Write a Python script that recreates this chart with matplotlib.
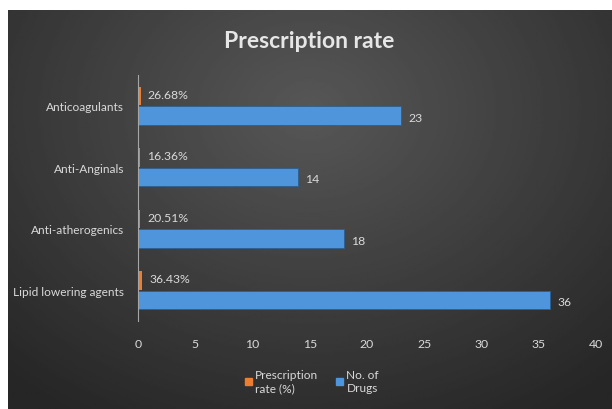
import numpy as np
import matplotlib.pyplot as plt
from matplotlib.patches import Patch

categories = ['Lipid lowering agents', 'Anti-atherogenics', 'Anti-Anginals', 'Anticoagulants']
rate_pct = [36.43, 20.51, 16.36, 26.68]
n_drugs = [36, 18, 14, 23]
x_ticks = [0, 5, 10, 15, 20, 25, 30, 35, 40]

plt.rcParams['font.family'] = ['Lato', 'DejaVu Sans']
txt = '#D9D9D9'
orange = '#ED7D31'
blue = '#4F95DB'

fig = plt.figure(figsize=(6.12, 4.10), dpi=100, facecolor='white')

# dark radial background
bg = fig.add_axes([8 / 612, 0, 604 / 612, 399 / 410])
yy, xx = np.mgrid[0:1:200j, 0:1:300j]
r = np.sqrt(((xx - 0.5) / 0.75) ** 2 + ((yy - 0.25) / 0.9) ** 2)
shade = 0.34 - 0.19 * np.clip(r, 0, 1)
bg.imshow(shade, cmap='gray', vmin=0, vmax=1, aspect='auto', extent=[0, 1, 0, 1])
bg.axis('off')

ax = fig.add_axes([138 / 612, 1 - 322 / 410, 458 / 612, 246 / 410])
ax.patch.set_alpha(0)

y = np.arange(len(categories))
h = 0.3
rates = [v / 100 for v in rate_pct]
ax.barh(y + 0.16, rates, height=h, color=orange)
ax.barh(y - 0.16, n_drugs, height=h, color=blue, edgecolor='#2E5F8F', linewidth=0.6)

for yi, rv, p in zip(y, rates, rate_pct):
    ax.text(rv + 0.6, yi + 0.19, f'{p:.2f}%', color=txt, fontsize=8.8, va='center')
for yi, d in zip(y, n_drugs):
    ax.text(d + 0.6, yi - 0.19, str(d), color=txt, fontsize=8.8, va='center')

ax.set_xlim(0, 40)
ax.set_ylim(-0.5, 3.5)
ax.set_xticks(x_ticks)
ax.set_yticks(y)
ax.set_yticklabels(categories)
ax.tick_params(axis='x', length=0, colors=txt, labelsize=8.8, pad=12)
ax.tick_params(axis='y', length=0, colors=txt, labelsize=8.6, pad=10)
for s in ['top', 'right', 'bottom']:
    ax.spines[s].set_visible(False)
ax.spines['left'].set_color('#A6A6A6')
ax.spines['left'].set_linewidth(0.8)

fig.text(0.505, 1 - 42 / 410, 'Prescription rate', color='#E6E6E6', fontsize=16.5,
         fontweight='bold', ha='center', va='center')

handles = [Patch(color=orange, label='Prescription\nrate (%)'),
           Patch(color=blue, label='No. of\nDrugs')]
fig.legend(handles=handles, loc='center', bbox_to_anchor=(0.51, 1 - 382 / 410),
           ncol=2, frameon=False, fontsize=8.6, labelcolor=txt,
           handlelength=0.55, handleheight=0.55, handletextpad=0.3,
           columnspacing=1.5)

fig.savefig('out.png', dpi=100, facecolor='white')
